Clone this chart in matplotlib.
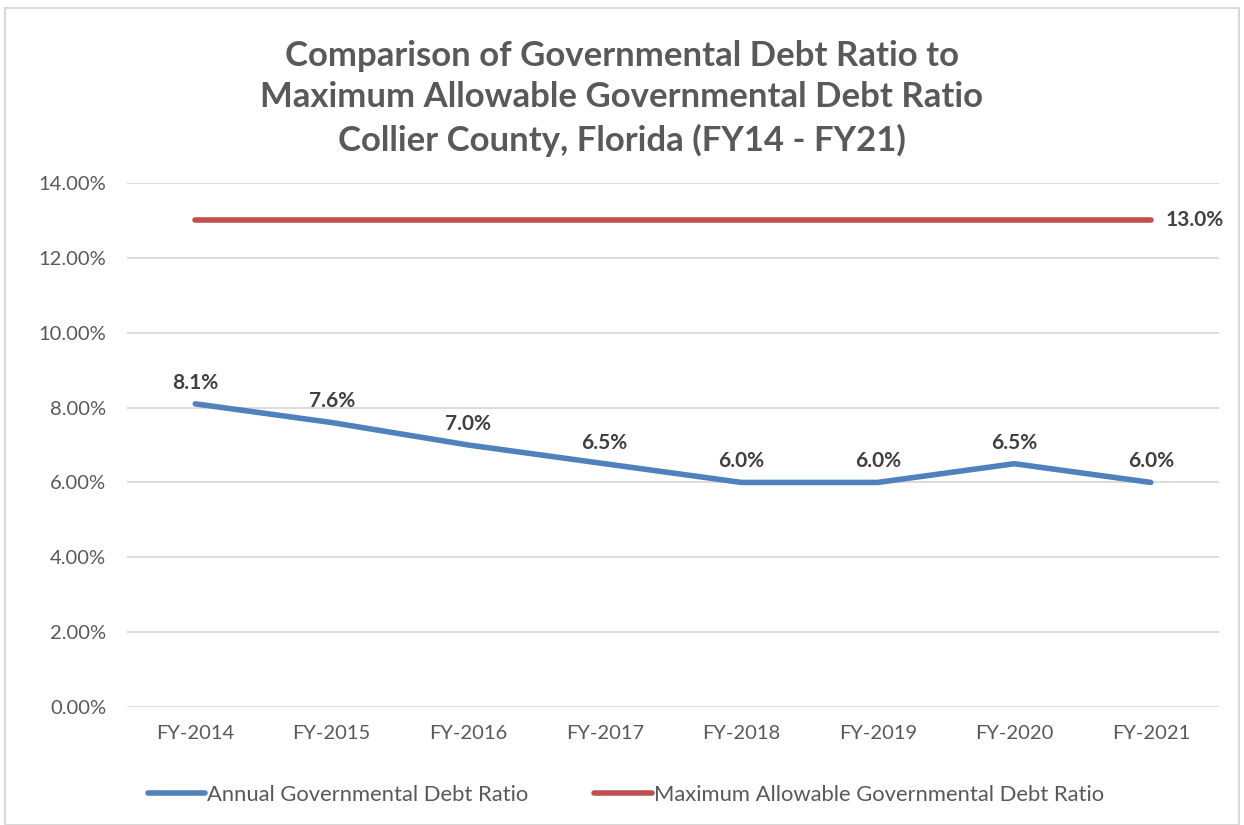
import matplotlib
matplotlib.use("Agg")
import matplotlib.pyplot as plt
from matplotlib.patches import Rectangle
from matplotlib.ticker import FuncFormatter

plt.rcParams['font.family'] = ['Lato', 'DejaVu Sans']

years = ['FY-2014', 'FY-2015', 'FY-2016', 'FY-2017', 'FY-2018', 'FY-2019', 'FY-2020', 'FY-2021']
annual = [8.1, 7.6, 7.0, 6.5, 6.0, 6.0, 6.5, 6.0]
maximum = [13.0, 13.0, 13.0, 13.0, 13.0, 13.0, 13.0, 13.0]

BLUE = '#4F81BD'
RED = '#C0504D'
GREY = '#595959'
DARK = '#404040'

W, H = 1244, 825
fig = plt.figure(figsize=(W / 100, H / 100), dpi=100)
# zone du graphique (pixels de la reference)
left, right, top, bottom = 127, 1219, 183, 707
ax = fig.add_axes([left / W, 1 - bottom / H, (right - left) / W, (bottom - top) / H])

x = list(range(len(years)))
ax.plot(x, annual, color=BLUE, lw=4, solid_capstyle='round', label='Annual Governmental Debt Ratio')
ax.plot(x, maximum, color=RED, lw=4, solid_capstyle='round', label='Maximum Allowable Governmental Debt Ratio')

for xi, v in zip(x, annual):
    ax.annotate(f'{v:.1f}%', (xi, v), xytext=(0, 8), textcoords='offset points',
                ha='center', va='bottom', fontsize=15, fontweight='bold', color=DARK)
ax.annotate(f'{maximum[-1]:.1f}%', (x[-1], maximum[-1]), xytext=(11, 0), textcoords='offset points',
            ha='left', va='center', fontsize=15, fontweight='bold', color=DARK)

ax.set_xlim(-0.5, len(years) - 0.5)
ax.set_ylim(0, 14)
ax.set_yticks(range(0, 15, 2))
ax.yaxis.set_major_formatter(FuncFormatter(lambda v, p: f'{v:.2f}%'))
ax.set_xticks(x)
ax.set_xticklabels(years)
ax.tick_params(axis='both', length=0, labelsize=14.5, colors=GREY)
ax.tick_params(axis='y', pad=15)
ax.tick_params(axis='x', pad=13)
ax.grid(axis='y', color='#D9D9D9', lw=1.3)
ax.set_axisbelow(True)
for s in ax.spines.values():
    s.set_visible(False)

titre = ['Comparison of Governmental Debt Ratio to',
         'Maximum Allowable Governmental Debt Ratio',
         'Collier County, Florida (FY14 - FY21)']
for ligne, y in zip(titre, [56, 97, 140]):
    fig.text(0.5, 1 - y / H, ligne, ha='center', va='center',
             fontsize=25, fontweight='bold', color=GREY)

leg = fig.legend(loc='center', bbox_to_anchor=(626 / W, 1 - 795 / H), ncol=2, frameon=False,
                 fontsize=15.8, handlelength=2.6, handletextpad=0.1, columnspacing=3.0)
for t in leg.get_texts():
    t.set_color(GREY)

fig.patches.append(Rectangle((5 / W, 0), (W - 10) / W, 1 - 8 / H, transform=fig.transFigure,
                             fill=False, edgecolor='#D9D9D9', lw=1.5))

fig.savefig('out.png', dpi=100)
